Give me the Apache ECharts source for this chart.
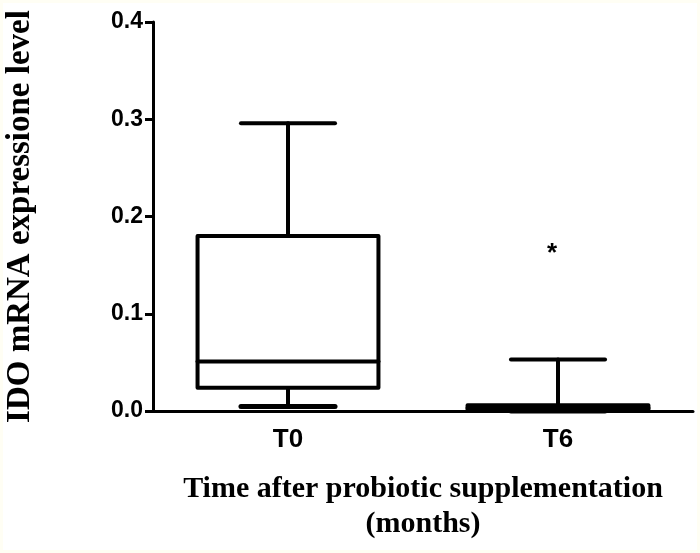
<!DOCTYPE html>
<html>
<head>
<meta charset="utf-8">
<script src="https://cdn.jsdelivr.net/npm/echarts@6/dist/echarts.min.js"></script>
<style>
html,body{margin:0;padding:0;background:#fffef4;}
#chart{position:absolute;left:3px;top:3px;width:694px;height:547px;background:#ffffff;}
</style>
</head>
<body>
<div id="chart"></div>
<script>
const categories = ['T0', 'T6'];
const whiskerLow = [0.0045, 0.0];
const q1 = [0.024, 0.0];
const median = [0.051, 0.003];
const q3 = [0.180, 0.006];
const whiskerHigh = [0.296, 0.053];
const outlierCat = [1];
const outlierVal = [0.166];
const yMin = 0, yMax = 0.4, yStep = 0.1;

const boxData = categories.map((c, i) => [i, whiskerLow[i], q1[i], median[i], q3[i], whiskerHigh[i]]);
const outData = outlierCat.map((c, i) => [c, outlierVal[i]]);

const chart = echarts.init(document.getElementById('chart'), null, {renderer: 'canvas'});
const LW = 4;
function renderBox(params, api) {
  const ci = api.value(0);
  const xc = api.coord([ci, 0])[0];
  const band = api.size([1, 0])[0];
  const bw = band * 0.67;
  const cw = bw * 0.52;
  const yMinP = api.coord([ci, api.value(1)])[1];
  const yQ1 = api.coord([ci, api.value(2)])[1];
  const yMed = api.coord([ci, api.value(3)])[1];
  const yQ3 = api.coord([ci, api.value(4)])[1];
  const yMaxP = api.coord([ci, api.value(5)])[1];
  const st = {stroke: '#000', lineWidth: LW, lineCap: 'round', lineJoin: 'round', fill: null};
  const ch = [];
  ch.push({type: 'line', shape: {x1: xc, y1: yMaxP, x2: xc, y2: yQ3}, style: st});
  ch.push({type: 'line', shape: {x1: xc, y1: yQ1, x2: xc, y2: yMinP}, style: st});
  ch.push({type: 'line', shape: {x1: xc - cw / 2, y1: yMaxP, x2: xc + cw / 2, y2: yMaxP}, style: st});
  ch.push({type: 'line', shape: {x1: xc - cw / 2, y1: yMinP, x2: xc + cw / 2, y2: yMinP}, style: Object.assign({}, st, {lineWidth: 5})});
  ch.push({type: 'rect', shape: {x: xc - bw / 2, y: yQ3, width: bw, height: yQ1 - yQ3}, style: {stroke: '#000', lineWidth: LW, lineJoin: 'round', fill: '#fff'}});
  ch.push({type: 'line', shape: {x1: xc - bw / 2, y1: yMed, x2: xc + bw / 2, y2: yMed}, style: st});
  return {type: 'group', children: ch};
}
function renderOut(params, api) {
  const p = api.coord([api.value(0), api.value(1)]);
  return {type: 'text', x: p[0] - 6, y: p[1] + 4, style: {text: '*', fill: '#000', font: 'bold 26px "Liberation Sans", Arial', align: 'center', verticalAlign: 'middle'}};
}
chart.setOption({
  animation: false,
  backgroundColor: '#ffffff',
  grid: {left: 150, right: 4, top: 19, bottom: 139, containLabel: false, outerBoundsMode: 'none'},
  xAxis: {
    type: 'category',
    data: categories,
    boundaryGap: true,
    axisLine: {lineStyle: {color: '#000', width: 3}},
    axisTick: {alignWithLabel: true, length: 12, lineStyle: {color: '#000', width: 3}},
    axisLabel: {color: '#000', fontSize: 26, fontWeight: 'bold', fontFamily: '"Liberation Sans", Arial', margin: 16},
    name: 'Time after probiotic supplementation\n(months)',
    nameLocation: 'middle',
    nameGap: 61,
    nameTextStyle: {color: '#000', fontSize: 30, fontWeight: 'bold', fontFamily: '"Liberation Serif", "Times New Roman", serif', lineHeight: 35}
  },
  yAxis: {
    type: 'value',
    min: yMin, max: yMax, interval: yStep,
    splitLine: {show: false},
    axisLine: {show: true, lineStyle: {color: '#000', width: 3}},
    axisTick: {show: true, length: 8, lineStyle: {color: '#000', width: 3}},
    axisLabel: {color: '#000', fontSize: 23, fontWeight: 'bold', fontFamily: '"Liberation Sans", Arial', margin: 10, formatter: v => v.toFixed(1)},
    name: 'IDO mRNA expressione level',
    nameLocation: 'middle',
    nameGap: 116,
    nameTextStyle: {color: '#000', fontSize: 33, fontWeight: 'bold', fontFamily: '"Liberation Serif", "Times New Roman", serif'}
  },
  series: [
    {type: 'custom', renderItem: renderBox, data: boxData, encode: {x: 0, y: [1, 2, 3, 4, 5]}, z: 3},
    {type: 'custom', renderItem: renderOut, data: outData, encode: {x: 0, y: 1}, z: 3}
  ]
});
</script>
</body>
</html>
